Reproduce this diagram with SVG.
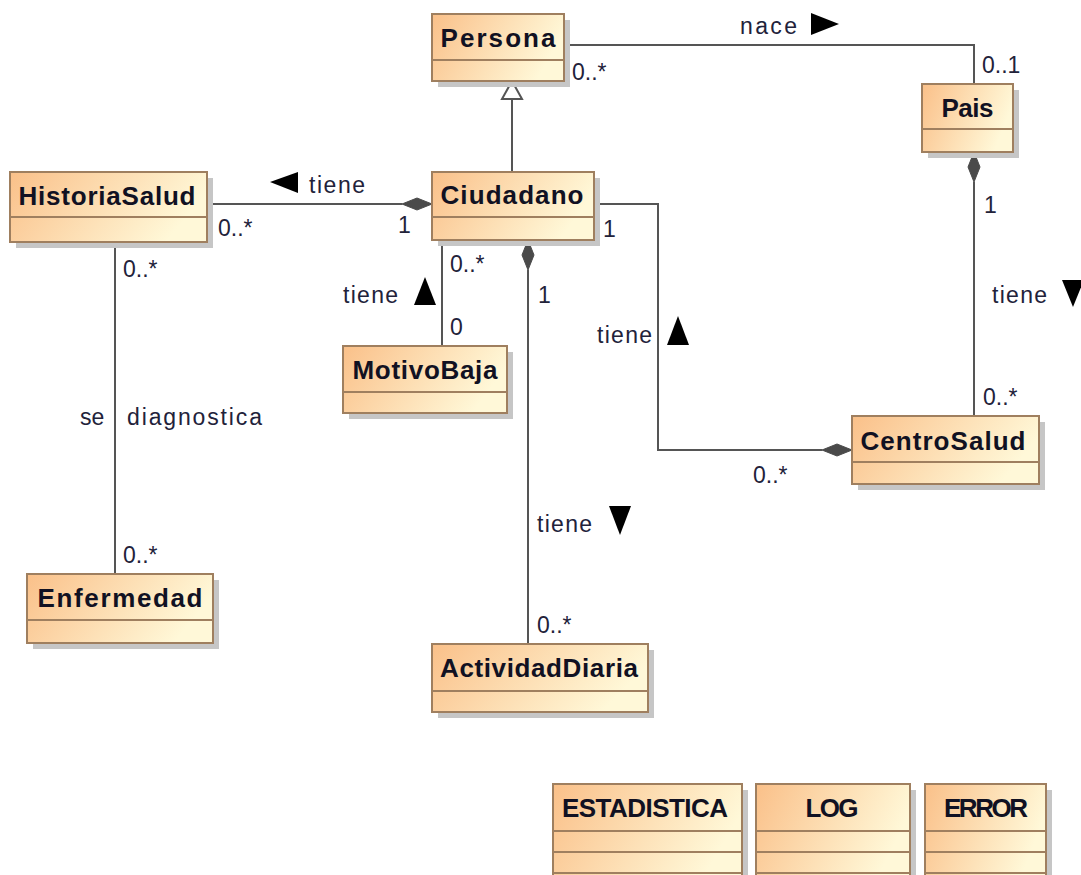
<svg xmlns="http://www.w3.org/2000/svg" width="1081" height="875" viewBox="0 0 1081 875">
<style>
.shadow{fill:#c6c6c6}
.box{fill:url(#cls);stroke:#9f7f5f;stroke-width:2}
.sep{stroke:#9f7f5f;stroke-width:2}
.name{font-family:"Liberation Sans",Arial,sans-serif;font-weight:bold;font-size:26px;fill:#111122;text-anchor:middle}
.lbl{font-family:"Liberation Sans",Arial,sans-serif;font-size:23px;fill:#22223a}
.edge{fill:none;stroke:#555555;stroke-width:2}
.dia{fill:#4a4a4a;stroke:#4a4a4a;stroke-width:1}
.tri{fill:#000000}
</style>
<defs>
<linearGradient id="cls" x1="0" y1="0" x2="1" y2="0.3">
<stop offset="0" stop-color="#fac089"/>
<stop offset="1" stop-color="#fff8d8"/>
</linearGradient>
</defs>
<rect width="1081" height="875" fill="#ffffff"/>

<g id="connectors">
<polyline class="edge" points="564,45 974,45 974,84"/>
<line class="edge" x1="512" y1="99" x2="512" y2="172"/>
<polygon points="512,81 522,99 502,99" fill="#ffffff" stroke="#555555" stroke-width="2"/>
<line class="edge" x1="207" y1="204" x2="402" y2="204"/>
<polygon class="dia" points="432,204 417,198 402,204 417,210"/>
<line class="edge" x1="442" y1="240" x2="442" y2="346"/>
<line class="edge" x1="528" y1="270" x2="528" y2="644"/>
<polygon class="dia" points="528,240 534,255 528,270 522,255"/>
<polyline class="edge" points="594,204 658,204 658,450 822,450"/>
<polygon class="dia" points="852,450 837,444 822,450 837,456"/>
<line class="edge" x1="974" y1="182" x2="974" y2="416"/>
<polygon class="dia" points="974,152 980,167 974,182 968,167"/>
<line class="edge" x1="115" y1="242" x2="115" y2="574"/>
</g>

<g id="labels">
<text class="lbl" x="740" y="34" textLength="57">nace</text>
<polygon class="tri" points="811,13 839,24 811,35"/>
<text class="lbl" x="572" y="80">0..*</text>
<text class="lbl" x="982" y="73">0..1</text>
<text class="lbl" x="984" y="213">1</text>
<text class="lbl" x="992" y="303" textLength="55">tiene</text>
<polygon class="tri" points="1062,280 1084,280 1073,307"/>
<text class="lbl" x="983" y="405">0..*</text>
<polygon class="tri" points="270,182 298,172 298,193"/>
<text class="lbl" x="309" y="193" textLength="56">tiene</text>
<text class="lbl" x="218" y="236">0..*</text>
<text class="lbl" x="398" y="233">1</text>
<text class="lbl" x="603" y="237">1</text>
<text class="lbl" x="450" y="272">0..*</text>
<text class="lbl" x="343" y="303" textLength="55">tiene</text>
<polygon class="tri" points="414,305 436,305 425,277"/>
<text class="lbl" x="450" y="335">0</text>
<text class="lbl" x="538" y="303">1</text>
<text class="lbl" x="537" y="532" textLength="55">tiene</text>
<polygon class="tri" points="609,506 631,506 620,535"/>
<text class="lbl" x="537" y="633">0..*</text>
<text class="lbl" x="597" y="343" textLength="55">tiene</text>
<polygon class="tri" points="667,345 689,345 678,316"/>
<text class="lbl" x="753" y="483">0..*</text>
<text class="lbl" x="123" y="277">0..*</text>
<text class="lbl" y="425"><tspan x="80">se </tspan><tspan x="127" textLength="135">diagnostica</tspan></text>
<text class="lbl" x="123" y="563">0..*</text>
</g>

<g id="Persona">
<rect class="shadow" x="438" y="20" width="132" height="67"/>
<rect class="box" x="432" y="14" width="132" height="67"/>
<line class="sep" x1="432" y1="60" x2="564" y2="60"/>
<text class="name" x="498" y="47" textLength="115">Persona</text>
</g>

<g id="Pais">
<rect class="shadow" x="928" y="90" width="91" height="68"/>
<rect class="box" x="922" y="84" width="91" height="68"/>
<line class="sep" x1="922" y1="129" x2="1013" y2="129"/>
<text class="name" x="967.5" y="117" textLength="52">Pais</text>
</g>

<g id="HistoriaSalud">
<rect class="shadow" x="16" y="178" width="197" height="70"/>
<rect class="box" x="10" y="172" width="197" height="70"/>
<line class="sep" x1="10" y1="217" x2="207" y2="217"/>
<text class="name" x="107" y="205" textLength="177">HistoriaSalud</text>
</g>

<g id="Ciudadano">
<rect class="shadow" x="438" y="178" width="162" height="68"/>
<rect class="box" x="432" y="172" width="162" height="68"/>
<line class="sep" x1="432" y1="217" x2="594" y2="217"/>
<text class="name" x="512" y="204" textLength="143">Ciudadano</text>
</g>

<g id="MotivoBaja">
<rect class="shadow" x="349" y="352" width="164" height="67"/>
<rect class="box" x="343" y="346" width="164" height="67"/>
<line class="sep" x1="343" y1="392" x2="507" y2="392"/>
<text class="name" x="425" y="379" textLength="145">MotivoBaja</text>
</g>

<g id="CentroSalud">
<rect class="shadow" x="858" y="422" width="187" height="68"/>
<rect class="box" x="852" y="416" width="187" height="68"/>
<line class="sep" x1="852" y1="462" x2="1039" y2="462"/>
<text class="name" x="943" y="450" textLength="165">CentroSalud</text>
</g>

<g id="Enfermedad">
<rect class="shadow" x="33" y="580" width="186" height="69"/>
<rect class="box" x="27" y="574" width="186" height="69"/>
<line class="sep" x1="27" y1="620" x2="213" y2="620"/>
<text class="name" x="120" y="607" textLength="165">Enfermedad</text>
</g>

<g id="ActividadDiaria">
<rect class="shadow" x="438" y="650" width="216" height="68"/>
<rect class="box" x="432" y="644" width="216" height="68"/>
<line class="sep" x1="432" y1="691" x2="648" y2="691"/>
<text class="name" x="539" y="677" textLength="198">ActividadDiaria</text>
</g>

<g id="ESTADISTICA">
<rect class="shadow" x="559" y="790" width="189" height="95"/>
<rect class="box" x="553" y="784" width="189" height="95"/>
<line class="sep" x1="553" y1="831" x2="742" y2="831"/>
<line class="sep" x1="553" y1="852" x2="742" y2="852"/>
<line class="sep" x1="553" y1="873" x2="742" y2="873"/>
<text class="name" x="645" y="817" textLength="166">ESTADISTICA</text>
</g>

<g id="LOG">
<rect class="shadow" x="762" y="790" width="154" height="95"/>
<rect class="box" x="756" y="784" width="154" height="95"/>
<line class="sep" x1="756" y1="831" x2="910" y2="831"/>
<line class="sep" x1="756" y1="852" x2="910" y2="852"/>
<line class="sep" x1="756" y1="873" x2="910" y2="873"/>
<text class="name" x="832" y="817" textLength="53">LOG</text>
</g>

<g id="ERROR">
<rect class="shadow" x="931" y="790" width="121" height="95"/>
<rect class="box" x="925" y="784" width="121" height="95"/>
<line class="sep" x1="925" y1="831" x2="1046" y2="831"/>
<line class="sep" x1="925" y1="852" x2="1046" y2="852"/>
<line class="sep" x1="925" y1="873" x2="1046" y2="873"/>
<text class="name" x="986" y="817" textLength="84">ERROR</text>
</g>
</svg>
